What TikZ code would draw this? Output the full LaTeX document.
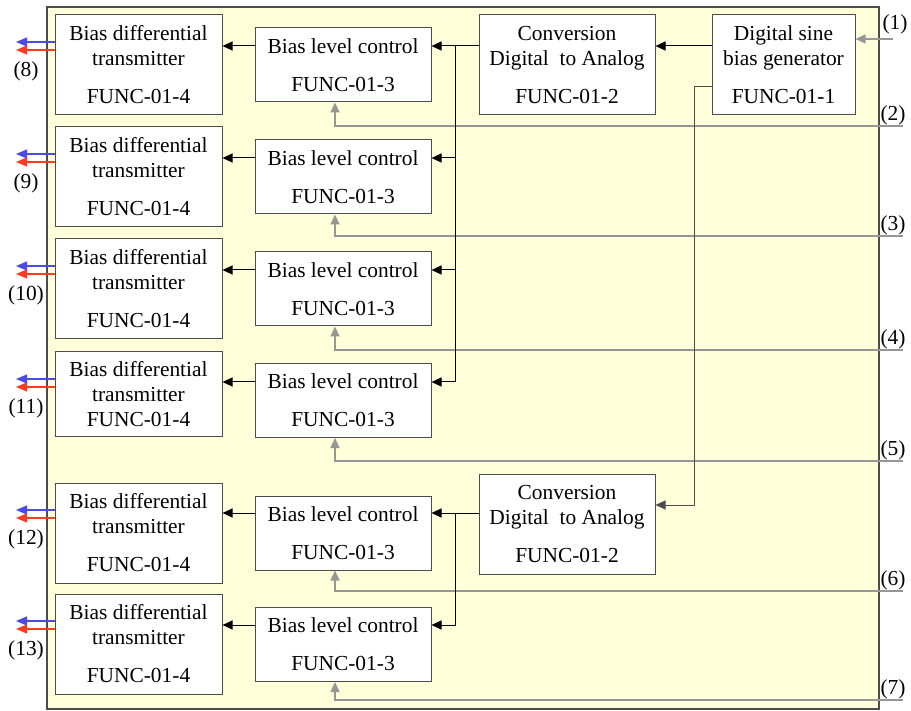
\documentclass[tikz,border=0pt]{standalone}
\usepackage{fontspec}
\setmainfont{Liberation Serif}
\usetikzlibrary{positioning,arrows.meta}
\definecolor{frameColor}{RGB}{255,255,217}
\definecolor{feedColor}{RGB}{150,150,150}
\definecolor{plusColor}{RGB}{75,75,225}
\definecolor{minusColor}{RGB}{250,60,30}
\tikzstyle{diagram} = [x=0.5pt, y=-0.5pt]
\tikzstyle{frameStyle} = [draw=black!70, fill=frameColor, line width=0.6pt]
\tikzstyle{blockStyle} = [draw=black!70, fill=white, line width=0.5pt, inner sep=0pt, align=center, font=\fontsize{10.7}{12.5}\selectfont]
\tikzstyle{transmitterStyle} = [blockStyle, minimum width=83.5pt]
\tikzstyle{levelStyle} = [blockStyle, minimum width=88pt, minimum height=37pt]
\tikzstyle{convStyle} = [blockStyle, minimum width=88pt, minimum height=50pt]
\tikzstyle{signalArrow} = [draw=black, line width=0.5pt, -{Triangle[length=5pt,width=4.5pt]}]
\tikzstyle{tapLine} = [draw=black!70, line width=0.5pt, -{Triangle[length=5pt,width=4.5pt]}]
\tikzstyle{feedArrow} = [draw=feedColor, line width=0.7pt, -{Triangle[length=5pt,width=4.5pt]}]
\tikzstyle{plusArrow} = [draw=plusColor, line width=0.6pt, -{Triangle[length=5.5pt,width=4.5pt]}]
\tikzstyle{minusArrow} = [draw=minusColor, line width=0.6pt, -{Triangle[length=5.5pt,width=4.5pt]}]
\tikzstyle{labelText} = [font=\fontsize{10.7}{12.5}\selectfont, inner sep=0pt]

\begin{document}
\begin{tikzpicture}[diagram]
  \useasboundingbox (0,0) rectangle (911,711);
  \draw [frameStyle] (47,7) rectangle (879,709);

  % generator and converters
  \node [blockStyle, minimum width=71.5pt, minimum height=50pt] (sine) at (783.5,65) {Digital sine\\bias generator\\[6.5pt]FUNC-01-1};
  \node [convStyle] (convA) at (567,65) {Conversion\\Digital~ to Analog\\[6.5pt]FUNC-01-2};
  \node [convStyle] (convB) at (567,524) {Conversion\\Digital~ to Analog\\[6.5pt]FUNC-01-2};

  % one row per output channel
  \foreach \row/\txTop/\txHeight/\txGap/\lvlY/\arrowY/\feedY in
    {1/15/100/6.5pt/65/46/126, 2/127/100/6.5pt/177/158/236, 3/239/100/6.5pt/289/270/350,
     4/352/85/0pt/400.5/382/461, 5/483/100/6.5pt/533/513/591, 6/594/100/6.5pt/644.5/625/700} {
    \pgfmathtruncatemacro{\outNum}{\row + 7}
    \pgfmathtruncatemacro{\feedNum}{\row + 1}
    \node [transmitterStyle, minimum height=\txHeight*0.5pt] (tx\row) at (138.5,\txTop+\txHeight/2) {Bias differential\\transmitter\\[\txGap]FUNC-01-4};
    \node [levelStyle] (lvl\row) at (343,\lvlY) {Bias level control\\[6.5pt]FUNC-01-3};
    \coordinate (level\row) at (0,\arrowY);
    \draw [signalArrow] (lvl\row.west |- level\row) -- (tx\row.east |- level\row);
    % outputs
    \coordinate (outPlus\row) at (16,\txTop+27);
    \coordinate (outMinus\row) at (16,\txTop+35);
    \draw [plusArrow] (tx\row.west |- outPlus\row) -- (outPlus\row);
    \draw [minusArrow] (tx\row.west |- outMinus\row) -- (outMinus\row);
    \node [labelText] (outLabel\row) at (26,\txTop+56) {(\outNum)};
    % level setting inputs
    \coordinate (feedIn\row) at (903,\feedY);
    \draw [feedArrow] (feedIn\row) -| ([xshift=-4pt]lvl\row.south);
    \node [labelText, anchor=south] (feedLabel\row) at (893,\feedY-1) {(\feedNum)};
  }

  % input (1)
  \coordinate (inOne) at (893,39);
  \draw [feedArrow] (inOne) -- (sine.east |- inOne);
  \node [labelText, anchor=south] (inLabel) at (895,34) {(1)};

  % generator to converters
  \draw [signalArrow] (sine.west |- level1) -- (convA.east |- level1);
  \coordinate (tap) at (0,87);
  \coordinate (tapEnd) at (0,505);
  \draw [tapLine] (sine.west |- tap) -- ++(-17,0) |- (convB.east |- tapEnd);

  % converters to level controls
  \draw [signalArrow] (convA.west |- level1) -- (lvl1.east |- level1);
  \coordinate (busA) at (455,46);
  \foreach \k in {2,3,4}
    \draw [signalArrow] (busA) |- (lvl\k.east |- level\k);
  \draw [signalArrow] (convB.west |- level5) -- (lvl5.east |- level5);
  \coordinate (busB) at (455,513);
  \draw [signalArrow] (busB) |- (lvl6.east |- level6);
\end{tikzpicture}
\end{document}
